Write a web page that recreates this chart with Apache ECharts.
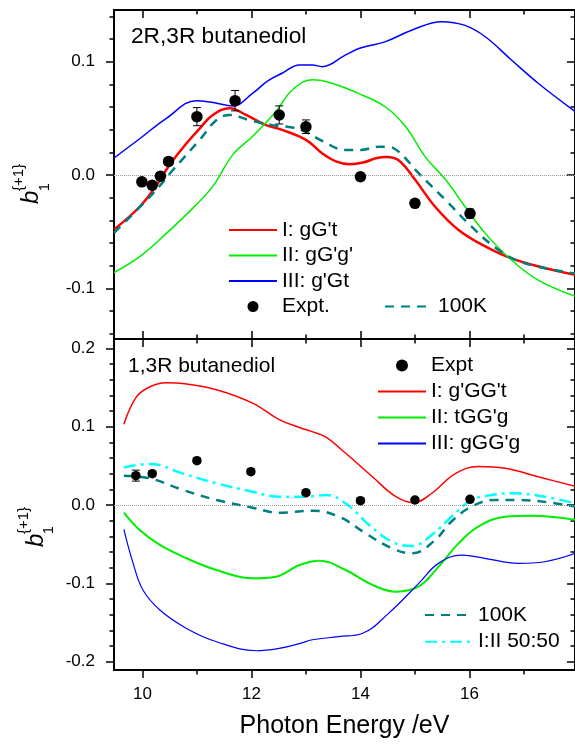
<!DOCTYPE html>
<html>
<head>
<meta charset="utf-8">
<script src="https://cdn.jsdelivr.net/npm/echarts@6/dist/echarts.min.js"></script>
<style>
  html, body { margin: 0; padding: 0; background: #fff; }
  #chart { width: 575px; height: 748px; }
</style>
</head>
<body>
<div id="chart"></div>
<script>
const FONT = '"Liberation Sans", Arial, sans-serif'

// ticks
const xMajor = [10, 12, 14, 16]
const xMinor = [11, 13, 15, 17]
const topMajor = [-0.1, 0, 0.1]
const topMinor = [-0.14, -0.12, -0.08, -0.06, -0.04, -0.02, 0.02, 0.04, 0.06, 0.08, 0.12, 0.14]
const botMajor = [-0.2, -0.1, 0, 0.1, 0.2]
const botMinor = [-0.18, -0.16, -0.14, -0.12, -0.08, -0.06, -0.04, -0.02, 0.02, 0.04, 0.06, 0.08, 0.12, 0.14, 0.16, 0.18]

// 2R,3R butanediol  [photon energy eV, b1]
const topI = [[9.48, -0.048], [9.95, -0.028], [10.26, -0.009], [10.5, 0.009], [10.81, 0.028], [11.05, 0.041], [11.29, 0.053], [11.6, 0.059], [11.9, 0.053], [12.27, 0.044], [12.55, 0.040], [13.0, 0.031], [13.3, 0.019], [13.55, 0.012], [13.8, 0.0095], [14.05, 0.011], [14.3, 0.015], [14.48, 0.016], [14.7, 0.013], [15.0, -0.004], [15.37, -0.028], [15.8, -0.0485], [16.29, -0.063], [16.77, -0.0735], [17.38, -0.082], [17.94, -0.088]]
const topII = [[9.48, -0.086], [9.95, -0.072], [10.44, -0.0515], [10.93, -0.029], [11.29, -0.010], [11.66, 0.018], [12.02, 0.034], [12.45, 0.056], [12.75, 0.075], [13.12, 0.084], [13.48, 0.081], [14.03, 0.0706], [14.46, 0.060], [14.83, 0.0426], [15.19, 0.016], [15.56, -0.004], [15.92, -0.028], [16.29, -0.0515], [16.77, -0.075], [17.26, -0.0927], [17.94, -0.107]]
const topIII = [[9.48, 0.015], [9.95, 0.032], [10.44, 0.050], [10.99, 0.0656], [11.3, 0.064], [11.66, 0.061], [12.02, 0.072], [12.3, 0.083], [12.57, 0.090], [12.88, 0.097], [13.12, 0.097], [13.3, 0.0956], [13.73, 0.106], [14.0, 0.112], [14.46, 0.1177], [14.95, 0.128], [15.49, 0.1353], [15.92, 0.132], [16.29, 0.122], [16.77, 0.1015], [17.26, 0.081], [17.94, 0.056]]
const top100K = [[9.48, -0.051], [10.2, -0.016], [10.56, 0.0044], [11.05, 0.031], [11.36, 0.0485], [11.6, 0.053], [11.96, 0.0485], [12.39, 0.044], [12.75, 0.042], [13.0, 0.038], [13.3, 0.030], [13.73, 0.022], [14.0, 0.022], [14.34, 0.025], [14.5, 0.025], [14.7, 0.0206], [15.07, 0.0015], [15.56, -0.022], [16.04, -0.0456], [16.53, -0.066], [17.02, -0.078], [17.94, -0.0868]]
// [energy, b1, error]
const topExpt = [[9.99, -0.006, 0.003], [10.18, -0.009, 0.003], [10.33, -0.001, 0.003], [10.48, 0.012, 0.003], [11.0, 0.0515, 0.008], [11.7, 0.0656, 0.009], [12.51, 0.053, 0.008], [13.0, 0.0426, 0.006], [14.0, -0.0015, 0.003], [15.0, -0.025, 0.003], [16.01, -0.034, 0.004]]

// 1,3R butanediol
const botI = [[9.66, 0.103], [9.89, 0.138], [10.14, 0.151], [10.44, 0.156], [10.81, 0.1545], [11.36, 0.147], [12.02, 0.130], [12.51, 0.109], [12.88, 0.099], [13.1, 0.094], [13.36, 0.087], [13.73, 0.066], [14.22, 0.036], [14.65, 0.0106], [14.98, 0.003], [15.31, 0.015], [15.74, 0.040], [16.16, 0.049], [16.65, 0.047], [17.26, 0.036], [17.94, 0.024]]
const botII = [[9.66, -0.0098], [9.95, -0.032], [10.32, -0.051], [10.81, -0.068], [11.36, -0.083], [12.02, -0.0936], [12.45, -0.0915], [12.88, -0.0766], [13.24, -0.071], [13.73, -0.083], [14.22, -0.102], [14.65, -0.1107], [15.07, -0.104], [15.43, -0.079], [15.80, -0.049], [16.16, -0.0277], [16.65, -0.015], [17.14, -0.0137], [17.94, -0.019]]
const botIII = [[9.66, -0.031], [9.83, -0.0745], [10.01, -0.1085], [10.32, -0.134], [10.81, -0.1575], [11.36, -0.1745], [12.09, -0.186], [12.51, -0.183], [12.88, -0.177], [13.12, -0.172], [13.6, -0.168], [14.03, -0.164], [14.52, -0.138], [15.07, -0.100], [15.43, -0.0745], [15.86, -0.064], [16.28, -0.068], [16.90, -0.0745], [17.38, -0.0724], [17.94, -0.0617]]
const bot100K = [[9.66, 0.0375], [10.14, 0.034], [10.75, 0.019], [11.36, 0.0064], [12.02, -0.0034], [12.51, -0.0098], [13.12, -0.0073], [13.61, -0.015], [14.09, -0.036], [14.58, -0.0553], [14.95, -0.0617], [15.37, -0.0447], [15.67, -0.021], [16.04, -0.002], [16.47, 0.0064], [16.90, 0.0064], [17.38, 0.004], [17.94, -0.002]]
const bot5050 = [[9.66, 0.048], [10.14, 0.0524], [10.75, 0.040], [11.36, 0.0277], [12.02, 0.017], [12.51, 0.0106], [13.0, 0.0106], [13.36, 0.0128], [13.73, 0.002], [14.16, -0.0255], [14.58, -0.047], [14.95, -0.0524], [15.31, -0.038], [15.67, -0.015], [16.04, 0.0064], [16.41, 0.0128], [16.77, 0.015], [17.38, 0.0106], [17.94, 0.002]]
const botExpt = [[9.88, 0.0375, 0.007], [10.18, 0.040, 0.003], [11.0, 0.0566, 0.003], [11.99, 0.0425, 0.003], [13.0, 0.0157, 0.003], [14.0, 0.0055, 0.003], [15.0, 0.0064, 0.003], [16.01, 0.0073, 0.003]]

const X_MIN = 9.479
const X_MAX = 17.936

const chart = echarts.init(document.getElementById('chart'))

// four axes per side pair: outer major, outer minor, inner major, inner minor
function frameAxes (grid, dir, min, max, major, minor, opts) {
  const outer = dir === 'x' ? 'bottom' : 'left'
  const inner = dir === 'x' ? 'top' : 'right'
  const tick = { color: '#000', width: 1.5 }
  const base = { gridIndex: grid, type: 'value', min, max, splitLine: { show: false } }
  const fmt = dir === 'x' ? v => String(v) : v => v.toFixed(1)
  const label = opts.labels
    ? { customValues: major, formatter: fmt, color: '#000', fontSize: 17, fontFamily: FONT, margin: dir === 'x' ? 16 : 19 }
    : { show: false }
  return [
    Object.assign({}, base, opts.name || {}, {
      position: outer,
      axisLine: { onZero: false, lineStyle: { color: '#000', width: 2 } },
      axisTick: { customValues: major, length: 8, lineStyle: tick },
      axisLabel: label
    }),
    Object.assign({}, base, {
      position: outer,
      axisLine: { show: false, onZero: false },
      axisTick: { customValues: minor, length: 4.5, lineStyle: tick },
      axisLabel: { show: false }
    }),
    Object.assign({}, base, {
      position: inner,
      axisLine: { onZero: false, lineStyle: { color: '#000', width: 2 } },
      axisTick: { customValues: major, length: 8, inside: opts.innerInside, lineStyle: tick },
      axisLabel: { show: false }
    }),
    Object.assign({}, base, {
      position: inner,
      axisLine: { show: false, onZero: false },
      axisTick: { customValues: minor, length: 4.5, inside: opts.innerInside, lineStyle: tick },
      axisLabel: { show: false }
    })
  ]
}

const zeroLine = {
  silent: true,
  symbol: ['none', 'none'],
  label: { show: false },
  lineStyle: { type: 'dotted', color: '#999', width: 1 },
  data: [{ yAxis: 0 }]
}

function curve (name, data, grid, color, width, type, extra) {
  return Object.assign({
    name,
    type: 'line',
    data,
    xAxisIndex: grid * 4,
    yAxisIndex: grid * 4,
    smooth: 0.4,
    symbol: 'none',
    lineStyle: { color, width, type },
    itemStyle: { color },
    z: 2
  }, extra || {})
}

function dots (name, data, grid, size) {
  return {
    name,
    type: 'scatter',
    data: data.map(d => [d[0], d[1]]),
    xAxisIndex: grid * 4,
    yAxisIndex: grid * 4,
    symbol: 'circle',
    symbolSize: size,
    itemStyle: { color: '#000', opacity: 1 },
    z: 5
  }
}

function errorBars (data, grid) {
  return {
    type: 'custom',
    name: 'err' + grid,
    xAxisIndex: grid * 4,
    yAxisIndex: grid * 4,
    data,
    encode: { x: 0, y: 1 },
    z: 4,
    renderItem: function (params, api) {
      const x = api.value(0)
      const y = api.value(1)
      const e = api.value(2)
      const hi = api.coord([x, y + e])
      const lo = api.coord([x, y - e])
      const st = { stroke: '#000', lineWidth: 1 }
      return {
        type: 'group',
        children: [
          { type: 'line', shape: { x1: hi[0], y1: hi[1], x2: lo[0], y2: lo[1] }, style: st },
          { type: 'line', shape: { x1: hi[0] - 4, y1: hi[1], x2: hi[0] + 4, y2: hi[1] }, style: st },
          { type: 'line', shape: { x1: lo[0] - 4, y1: lo[1], x2: lo[0] + 4, y2: lo[1] }, style: st }
        ]
      }
    }
  }
}

function yTitle (x, y) {
  const t = (text, lx, ly, font) => ({
    type: 'text', x: lx, y: ly,
    style: { text, font, fill: '#000', textAlign: 'left', textVerticalAlign: 'middle' }
  })
  return {
    type: 'group', x, y, rotation: Math.PI / 2,
    children: [
      t('b', 0, 0, 'italic 24px ' + FONT),
      t('1', 13, 13.5, '14px ' + FONT),
      t('{+1}', 13, -12.5, '15px ' + FONT)
    ]
  }
}

// legend entries for lines: hide the marker the line icon carries
const lineItem = name => ({ name, itemStyle: { opacity: 0 } })

const legendText = { color: '#000', fontSize: 21, fontFamily: FONT, lineHeight: 21 }
const legendBase = { orient: 'vertical', padding: 0, itemWidth: 48, itemHeight: 11, selectedMode: false, textStyle: legendText }

const DASH = [9, 7]
const DASHDOT = [12, 5, 3, 5]

const option = {
  animation: false,
  backgroundColor: '#fff',
  grid: [
    { left: 114, right: -2, top: 10, height: 329 },
    { left: 114, right: -2, top: 339, height: 331 }
  ],
  xAxis: [].concat(
    frameAxes(0, 'x', X_MIN, X_MAX, xMajor, xMinor, { labels: false, innerInside: true }),
    frameAxes(1, 'x', X_MIN, X_MAX, xMajor, xMinor, {
      labels: true,
      innerInside: false,
      name: {
        name: 'Photon Energy /eV',
        nameLocation: 'middle',
        nameGap: 44,
        nameTextStyle: { color: '#000', fontSize: 25, fontFamily: FONT }
      }
    })
  ),
  yAxis: [].concat(
    frameAxes(0, 'y', -0.1447, 0.1456, topMajor, topMinor, { labels: true, innerInside: true }),
    frameAxes(1, 'y', -0.2106, 0.2119, botMajor, botMinor, { labels: true, innerInside: true })
  ),
  legend: [
    Object.assign({}, legendBase, { left: 228, top: 219.5, itemGap: 4.5, data: [lineItem("I: gG't"), lineItem("II: gG'g'"), lineItem("III: g'Gt"), 'Expt.'] }),
    Object.assign({}, legendBase, { left: 384, top: 296, itemGap: 4.5, data: [lineItem('100K')] }),
    Object.assign({}, legendBase, { left: 377, top: 355, itemGap: 5, itemHeight: 12, data: ['Expt', lineItem("I: g'GG't"), lineItem("II: tGG'g"), lineItem("III: gGG'g")] }),
    Object.assign({}, legendBase, { left: 424, top: 604.5, itemGap: 5.7, data: [lineItem('100K'), lineItem('I:II 50:50')] })
  ],
  graphic: [
    { type: 'text', x: 131, y: 37, style: { text: '2R,3R butanediol', font: '22.7px ' + FONT, fill: '#000', textVerticalAlign: 'middle' } },
    { type: 'text', x: 128, y: 366, style: { text: '1,3R butanediol', font: '21px ' + FONT, fill: '#000', textVerticalAlign: 'middle' } },
    yTitle(31.5, 204),
    yTitle(36, 547)
  ],
  series: [
    curve("I: gG't", topI, 0, '#ff0000', 2.5, 'solid', { markLine: zeroLine }),
    curve("II: gG'g'", topII, 0, '#00ee00', 1.5, 'solid'),
    curve("III: g'Gt", topIII, 0, '#0000ff', 1.5, 'solid'),
    curve('100K', top100K, 0, '#007f7f', 2.5, DASH),
    errorBars(topExpt, 0),
    dots('Expt.', topExpt, 0, 11.5),

    curve("I: g'GG't", botI, 1, '#ff0000', 1.5, 'solid', { markLine: zeroLine }),
    curve("II: tGG'g", botII, 1, '#00ee00', 2, 'solid'),
    curve("III: gGG'g", botIII, 1, '#0000ff', 1.2, 'solid'),
    curve('100K', bot100K, 1, '#007f7f', 2.5, DASH),
    curve('I:II 50:50', bot5050, 1, '#00ffff', 2.5, DASHDOT),
    errorBars(botExpt, 1),
    dots('Expt', botExpt, 1, 9.5)
  ]
}

chart.setOption(option)
</script>
</body>
</html>
